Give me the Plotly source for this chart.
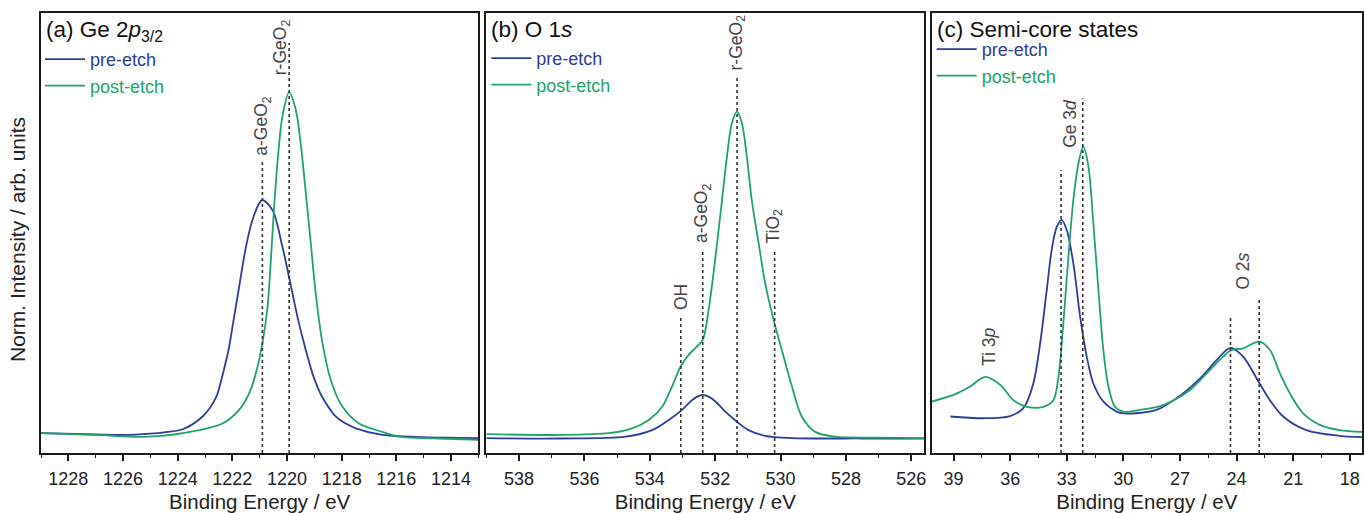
import plotly.graph_objects as go

# ---------------- data ----------------
# (a) Ge 2p3/2
ge_pre_e = [1229.0, 1227.0, 1226.0, 1225.0, 1224.5, 1223.82, 1223.09, 1222.6, 1222.42, 1222.24,
            1222.12, 1222.0, 1221.75, 1221.5, 1221.26, 1221.02, 1220.9, 1220.53, 1220.17, 1219.98,
            1219.8, 1219.62, 1219.44, 1219.07, 1218.89, 1218.7, 1218.22, 1217.85, 1217.48, 1216.51,
            1215.0, 1213.0]
ge_pre_i = [0.045, 0.042, 0.041, 0.044, 0.047, 0.054, 0.083, 0.126, 0.162, 0.207,
            0.240, 0.285, 0.378, 0.469, 0.530, 0.567, 0.575, 0.552, 0.469, 0.416,
            0.363, 0.310, 0.264, 0.181, 0.151, 0.126, 0.083, 0.067, 0.056, 0.041,
            0.036, 0.034]
ge_post_e = [1229.0, 1227.0, 1225.04, 1223.21, 1222.36, 1221.75, 1221.38, 1221.14, 1220.9, 1220.71,
             1220.59, 1220.47, 1220.34, 1220.17, 1219.92, 1219.68, 1219.5, 1219.31, 1219.13, 1218.95,
             1218.7, 1218.4, 1217.97, 1217.36, 1216.51, 1215.9, 1214.5, 1213.0]
ge_post_i = [0.045, 0.041, 0.037, 0.052, 0.067, 0.098, 0.136, 0.181, 0.249, 0.333,
             0.439, 0.560, 0.666, 0.764, 0.820, 0.780, 0.704, 0.590, 0.477, 0.363,
             0.249, 0.166, 0.105, 0.067, 0.048, 0.037, 0.033, 0.030]

# (b) O 1s
o_pre_e = [539.0, 536.78, 534.74, 533.93, 533.42, 533.01, 532.71, 532.55, 532.38, 532.2,
           531.99, 531.69, 531.33, 530.98, 530.47, 529.65, 527.5, 525.6]
o_pre_i = [0.034, 0.033, 0.037, 0.052, 0.075, 0.098, 0.120, 0.128, 0.132, 0.128,
           0.117, 0.094, 0.071, 0.052, 0.039, 0.034, 0.033, 0.033]
o_post_e = [539.0, 536.78, 535.25, 534.54, 534.03, 533.62, 533.32, 533.06, 532.81, 532.56,
            532.38, 532.2, 531.99, 531.79, 531.64, 531.49, 531.33, 531.18, 531.03, 530.88,
            530.67, 530.47, 530.21, 529.96, 529.65, 529.35, 528.94, 528.33, 527.0, 525.6]
o_post_i = [0.043, 0.041, 0.045, 0.056, 0.075, 0.105, 0.151, 0.196, 0.223, 0.242,
            0.257, 0.325, 0.446, 0.575, 0.673, 0.749, 0.776, 0.749, 0.673, 0.575,
            0.477, 0.386, 0.302, 0.234, 0.151, 0.083, 0.048, 0.037, 0.035, 0.034]

# (c) Semi-core states
sc_pre_e = [39.17, 37.41, 36.0, 35.3, 34.77, 34.41, 34.06, 33.8, 33.53, 33.27,
            33.0, 32.65, 32.29, 31.94, 31.59, 31.06, 30.35, 30.0, 28.24, 26.82,
            25.76, 25.06, 24.32, 23.65, 22.94, 22.23, 21.53, 20.3, 18.53, 17.35]
sc_pre_i = [0.083, 0.079, 0.084, 0.102, 0.158, 0.249, 0.370, 0.461, 0.514, 0.530,
            0.507, 0.431, 0.310, 0.219, 0.158, 0.117, 0.094, 0.090, 0.098, 0.136,
            0.177, 0.211, 0.239, 0.219, 0.170, 0.120, 0.083, 0.052, 0.039, 0.036]
sc_post_e = [40.16, 39.0, 38.12, 37.32, 36.53, 35.82, 35.12, 34.24, 33.71, 33.44,
             33.18, 32.91, 32.65, 32.38, 32.12, 31.85, 31.59, 31.32, 31.06, 30.79,
             30.44, 30.0, 29.12, 27.88, 26.47, 25.41, 24.71, 24.27, 23.65, 22.8,
             22.23, 21.7, 21.18, 20.47, 19.59, 18.53, 17.35]
sc_post_i = [0.117, 0.132, 0.151, 0.173, 0.155, 0.120, 0.105, 0.105, 0.120, 0.173,
             0.295, 0.446, 0.575, 0.658, 0.696, 0.651, 0.522, 0.370, 0.234, 0.151,
             0.105, 0.094, 0.098, 0.109, 0.143, 0.189, 0.219, 0.234, 0.238, 0.253,
             0.234, 0.181, 0.136, 0.090, 0.064, 0.052, 0.048]

# dotted reference lines: energy and height
ge_lines_x = [1220.9, 1219.92]
ge_lines_top = [0.666, 0.932]
o_lines_x = [533.05, 532.38, 531.33, 530.18]
o_lines_top = [0.310, 0.461, 0.859, 0.461]
sc_lines_x = [33.3, 32.15, 24.32, 22.8]
sc_lines_top = [0.643, 0.806, 0.310, 0.352]

# peak labels: text, energy, base height
ge_labels = ["a-GeO<sub>2</sub>", "r-GeO<sub>2</sub>"]
ge_labels_x = [1220.9, 1220.2]
ge_labels_y = [0.672, 0.853]
o_labels = ["OH", "a-GeO<sub>2</sub>", "r-GeO<sub>2</sub>", "TiO<sub>2</sub>"]
o_labels_x = [533.05, 532.38, 531.33, 530.18]
o_labels_y = [0.320, 0.472, 0.865, 0.472]
sc_labels = ["Ti 3<i>p</i>", "Ge 3<i>d</i>", "O 2<i>s</i>"]
sc_labels_x = [37.15, 32.8, 23.65]
sc_labels_y = [0.193, 0.689, 0.366]

panel_titles = ["(a) Ge 2<i>p</i><sub>3/2</sub>", "(b) O 1<i>s</i>", "(c) Semi-core states"]

BLUE = "#2A3F98"
GREEN = "#20A36B"
GREY = "#454545"
FONT = "Arial, Liberation Sans, sans-serif"

W, H = 1364, 513
ML, MR, MT, MB = 41, 0, 13, 60
PW = W - ML - MR
PH = H - MT - MB


def px_x(p):
    return (p - ML) / PW


def px_y(p):
    return (H - MB - p) / PH


domains = [[px_x(41), px_x(479)], [px_x(487), px_x(925.7)], [px_x(933), 1.0]]
ranges = [[1229.0, 1213.0], [539.0, 525.6], [40.16, 17.35]]
dticks = [2, 2, 3]
minor_dt = [1, 1, 1.5]

fig = go.Figure()

curves = [
    (ge_pre_e, ge_pre_i, ge_post_e, ge_post_i),
    (o_pre_e, o_pre_i, o_post_e, o_post_i),
    (sc_pre_e, sc_pre_i, sc_post_e, sc_post_i),
]
legend_ids = ["legend", "legend2", "legend3"]

for k, (pe, pi, qe, qi) in enumerate(curves):
    xa = "x" if k == 0 else f"x{k+1}"
    ya = "y" if k == 0 else f"y{k+1}"
    fig.add_trace(go.Scatter(x=pe, y=pi, xaxis=xa, yaxis=ya, mode="lines",
                             line=dict(color=BLUE, width=1.8, shape="spline", smoothing=0.9),
                             name=f'<span style="color:{BLUE}">pre-etch</span>',
                             legend=legend_ids[k]))
    fig.add_trace(go.Scatter(x=qe, y=qi, xaxis=xa, yaxis=ya, mode="lines",
                             line=dict(color=GREEN, width=1.8, shape="spline", smoothing=0.9),
                             name=f'<span style="color:{GREEN}">post-etch</span>',
                             legend=legend_ids[k]))

# dotted marker lines
line_sets = [(ge_lines_x, ge_lines_top), (o_lines_x, o_lines_top), (sc_lines_x, sc_lines_top)]
for k, (lx, lt) in enumerate(line_sets):
    xa = "x" if k == 0 else f"x{k+1}"
    ya = "y" if k == 0 else f"y{k+1}"
    for x0, top in zip(lx, lt):
        fig.add_trace(go.Scatter(x=[x0, x0], y=[0, top], xaxis=xa, yaxis=ya, mode="lines",
                                 line=dict(color="#333333", width=1.6, dash="dot"),
                                 showlegend=False, hoverinfo="skip"))

annotations = []
lab_font = dict(family=FONT, size=17.5, color=GREY)
label_sets = [
    ("x", "y", ge_labels, ge_labels_x, ge_labels_y),
    ("x2", "y2", o_labels, o_labels_x, o_labels_y),
    ("x3", "y3", sc_labels, sc_labels_x, sc_labels_y),
]
for xr, yr, texts, lxs, lys in label_sets:
    for txt, x0, y0 in zip(texts, lxs, lys):
        annotations.append(dict(x=x0, y=y0, xref=xr, yref=yr, text=txt, textangle=-90,
                                showarrow=False, xanchor="center", yanchor="bottom",
                                font=lab_font))

# panel titles
title_px = [44, 490, 936]
for t, xp in zip(panel_titles, title_px):
    annotations.append(dict(x=px_x(xp), y=px_y(15), xref="paper", yref="paper", text=t,
                            showarrow=False, xanchor="left", yanchor="top",
                            font=dict(family=FONT, size=22.5, color="#111111")))

# y title
annotations.append(dict(x=px_x(18), y=px_y(240), xref="paper", yref="paper",
                        text="Norm. Intensity / arb. units", textangle=-90, showarrow=False,
                        xanchor="center", yanchor="middle",
                        font=dict(family=FONT, size=21, color="#222222")))

layout = dict(
    width=W, height=H,
    margin=dict(l=ML, r=MR, t=MT, b=MB),
    plot_bgcolor="white", paper_bgcolor="white",
    annotations=annotations,
    font=dict(family=FONT, color="#222222"),
)

for k in range(3):
    sx = "" if k == 0 else str(k + 1)
    layout[f"xaxis{sx}"] = dict(
        domain=domains[k], range=ranges[k], anchor=f"y{sx}",
        showline=True, mirror=True, linecolor="#1a1a1a", linewidth=1.6,
        ticks="outside", ticklen=6, tickwidth=1.5, tickcolor="#1a1a1a", dtick=dticks[k],
        minor=dict(ticks="outside", ticklen=3.5, tickwidth=1.3, tickcolor="#1a1a1a",
                   dtick=minor_dt[k], showgrid=False),
        showgrid=False, zeroline=False, ticklabelstandoff=3,
        tickfont=dict(family=FONT, size=18, color="#222222"),
        title=dict(text="Binding Energy / eV", font=dict(family=FONT, size=20.5, color="#222222"),
                   standoff=7),
    )
    layout[f"yaxis{sx}"] = dict(
        domain=[0, 1], range=[0, 1], anchor=f"x{sx}",
        showline=True, mirror=True, linecolor="#1a1a1a", linewidth=1.6,
        showticklabels=False, ticks="", showgrid=False, zeroline=False,
    )

leg_px = [(40, 41), (487, 40), (933, 31)]
for k, (lx, ly) in enumerate(leg_px):
    lid = legend_ids[k]
    layout[lid] = dict(x=px_x(lx), y=px_y(ly), xanchor="left", yanchor="top",
                       bgcolor="rgba(0,0,0,0)", font=dict(family=FONT, size=18),
                       tracegroupgap=0, itemwidth=40)

fig.update_layout(**layout)
fig.write_html("out.html")
